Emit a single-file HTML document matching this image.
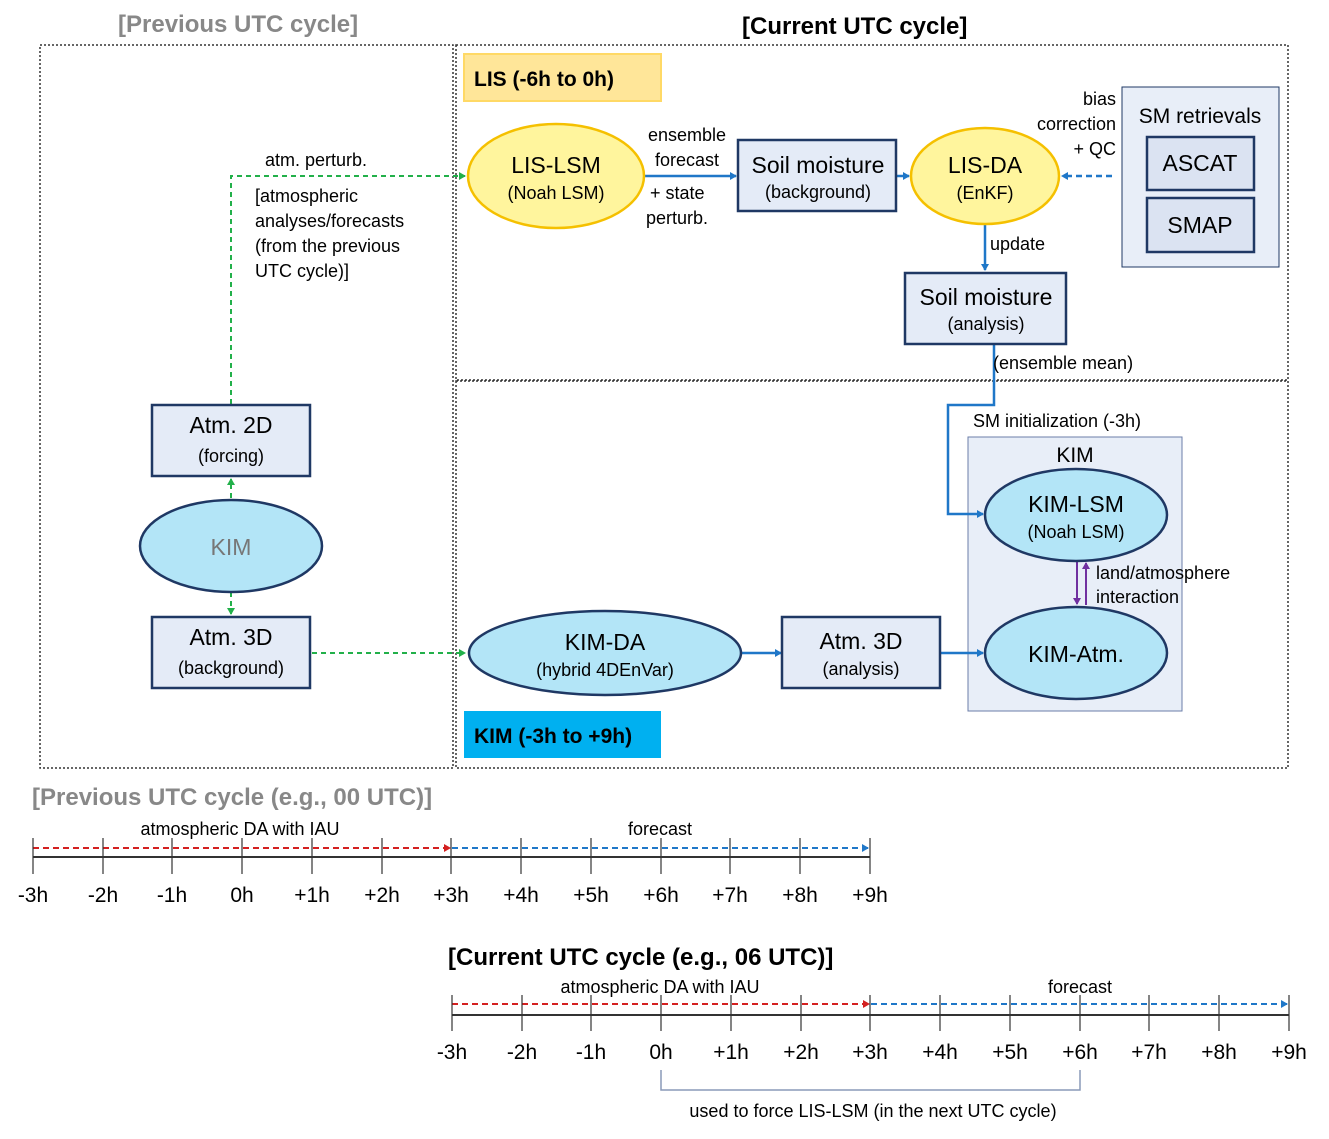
<!DOCTYPE html><html><head><meta charset="utf-8"><style>body{margin:0;background:#fff}svg{display:block}text{font-family:"Liberation Sans",sans-serif}</style></head><body>
<svg width="1329" height="1139" viewBox="0 0 1329 1139" xmlns="http://www.w3.org/2000/svg">
<defs>
<marker id="ab" markerWidth="8" markerHeight="8" refX="6" refY="4" orient="auto" markerUnits="userSpaceOnUse"><path d="M0,0L7,4L0,8z" fill="#1f77c8"/></marker>
<marker id="ag" markerWidth="8" markerHeight="8" refX="6" refY="4" orient="auto" markerUnits="userSpaceOnUse"><path d="M0,0L7,4L0,8z" fill="#22b04a"/></marker>
<marker id="ar" markerWidth="8" markerHeight="8" refX="6" refY="4" orient="auto" markerUnits="userSpaceOnUse"><path d="M0,0L7,4L0,8z" fill="#d42020"/></marker>
<marker id="ap" markerWidth="8" markerHeight="8" refX="6" refY="4" orient="auto" markerUnits="userSpaceOnUse"><path d="M0,0L7,4L0,8z" fill="#7030a0"/></marker>
</defs>
<g font-weight="bold" font-size="24">
<text x="118" y="32" fill="#888">[Previous UTC cycle]</text>
<text x="742" y="34" fill="#000">[Current UTC cycle]</text>
</g>
<g fill="none" stroke="#333" stroke-width="1.5" stroke-dasharray="2,2">
<rect x="40" y="45" width="413" height="723"/>
<rect x="456" y="45" width="832" height="335"/>
<rect x="456" y="381" width="832" height="387"/>
</g>
<rect x="464" y="54" width="197" height="47" fill="#ffe699" stroke="#ffd966" stroke-width="2"/>
<text x="474" y="86" font-size="21" font-weight="bold">LIS (-6h to 0h)</text>
<rect x="464" y="711" width="197" height="47" fill="#00b0f0"/>
<text x="474" y="743" font-size="21" font-weight="bold">KIM (-3h to +9h)</text>
<rect x="1122" y="87" width="157" height="180" fill="#e8eef8" stroke="#1f3864" stroke-width="1"/>
<rect x="968" y="437" width="214" height="274" fill="#e8eef8" stroke="#6b7ea8" stroke-width="1"/>
<!-- connectors -->
<g stroke="#22b04a" stroke-width="2" stroke-dasharray="5,4" fill="none">
<path d="M231 404V176H465" marker-end="url(#ag)"/>
<path d="M231 498V479" marker-end="url(#ag)"/>
<path d="M231 592V614" marker-end="url(#ag)"/>
<path d="M312 653H465" marker-end="url(#ag)"/>
</g>
<g stroke="#1f77c8" stroke-width="2.5" fill="none">
<path d="M645 176H736" marker-end="url(#ab)"/>
<path d="M897 176H909" marker-end="url(#ab)"/>
<path d="M985 218V270" marker-end="url(#ab)"/>
<path d="M994 344V405H948V514H983" marker-end="url(#ab)"/>
<path d="M741 653H781" marker-end="url(#ab)"/>
<path d="M941 653H983" marker-end="url(#ab)"/>
<path d="M1112 176H1062" stroke-dasharray="6,4" marker-end="url(#ab)"/>
</g>
<g stroke="#7030a0" stroke-width="2"><path d="M1077 562V604" marker-end="url(#ap)"/><path d="M1086 605V563" marker-end="url(#ap)"/></g>
<!-- boxes -->
<g fill="#e4ebf7" stroke="#1f3864" stroke-width="2.5">
<rect x="152" y="405" width="158" height="71"/>
<rect x="152" y="617" width="158" height="71"/>
<rect x="738" y="140" width="158" height="71"/>
<rect x="905" y="273" width="161" height="71"/>
<rect x="782" y="617" width="158" height="71"/>
</g>
<g fill="#dbe3f2" stroke="#1f3864" stroke-width="2.5">
<rect x="1147" y="137" width="107" height="53"/>
<rect x="1147" y="198" width="107" height="54"/>
</g>
<g fill="#fff59d" stroke="#f5c000" stroke-width="2.5">
<ellipse cx="556" cy="176" rx="88" ry="52"/>
<ellipse cx="985" cy="176" rx="74" ry="48"/>
</g>
<g fill="#b3e5f7" stroke="#1f3864" stroke-width="2.5">
<ellipse cx="231" cy="546" rx="91" ry="46"/>
<ellipse cx="605" cy="653" rx="136" ry="42"/>
<ellipse cx="1076" cy="515" rx="91" ry="46"/>
<ellipse cx="1076" cy="653" rx="91" ry="46"/>
</g>
<g font-size="23" text-anchor="middle">
<text x="556" y="173">LIS-LSM</text><text x="985" y="173">LIS-DA</text>
<text x="231" y="433">Atm. 2D</text><text x="231" y="645">Atm. 3D</text>
<text x="818" y="173">Soil moisture</text><text x="986" y="305">Soil moisture</text>
<text x="861" y="649">Atm. 3D</text><text x="605" y="650">KIM-DA</text>
<text x="1076" y="512">KIM-LSM</text><text x="1076" y="662">KIM-Atm.</text>
<text x="231" y="555" fill="#777">KIM</text>
<text x="1200" y="171">ASCAT</text><text x="1200" y="233">SMAP</text>
<text x="1200" y="123" font-size="21">SM retrievals</text>
<text x="1075" y="462" font-size="21">KIM</text>
</g>
<g font-size="18" text-anchor="middle">
<text x="556" y="199">(Noah LSM)</text><text x="985" y="199">(EnKF)</text>
<text x="231" y="462">(forcing)</text><text x="231" y="674">(background)</text>
<text x="818" y="198">(background)</text><text x="986" y="330">(analysis)</text>
<text x="861" y="675">(analysis)</text><text x="605" y="676">(hybrid 4DEnVar)</text>
<text x="1076" y="538">(Noah LSM)</text>
<text x="687" y="141">ensemble</text><text x="687" y="166">forecast</text>
</g>
<g font-size="18">
<text x="650" y="199">+ state</text><text x="646" y="224">perturb.</text>
<text x="265" y="166">atm. perturb.</text>
<text x="255" y="202">[atmospheric</text><text x="255" y="227">analyses/forecasts</text><text x="255" y="252">(from the previous</text><text x="255" y="277">UTC cycle)]</text>
<text x="990" y="250">update</text>
<text x="993" y="369">(ensemble  mean)</text>
<text x="973" y="427">SM initialization  (-3h)</text>
<text x="1096" y="579">land/atmosphere</text><text x="1096" y="603">interaction</text>
<text x="1116" y="105" text-anchor="end">bias</text><text x="1116" y="130" text-anchor="end">correction</text><text x="1116" y="155" text-anchor="end">+ QC</text>
</g>
<!-- timeline 1 -->
<text x="32" y="805" font-size="24" font-weight="bold" fill="#888">[Previous UTC cycle (e.g., 00 UTC)]</text>
<text x="240" y="835" font-size="18" text-anchor="middle">atmospheric  DA with IAU</text>
<text x="660" y="835" font-size="18" text-anchor="middle">forecast</text>
<line x1="33" y1="857" x2="870" y2="857" stroke="#333" stroke-width="2"/>
<line x1="33" y1="848" x2="450" y2="848" stroke="#d42020" stroke-width="2" stroke-dasharray="6,4" marker-end="url(#ar)"/>
<line x1="452" y1="848" x2="868" y2="848" stroke="#1f77c8" stroke-width="2" stroke-dasharray="6,4" marker-end="url(#ab)"/>
<g stroke="#333" stroke-width="1.2">
<line x1="33" y1="838" x2="33" y2="874"/><line x1="103" y1="838" x2="103" y2="874"/><line x1="172" y1="838" x2="172" y2="874"/><line x1="242" y1="838" x2="242" y2="874"/><line x1="312" y1="838" x2="312" y2="874"/><line x1="382" y1="838" x2="382" y2="874"/><line x1="451" y1="838" x2="451" y2="874"/><line x1="521" y1="838" x2="521" y2="874"/><line x1="591" y1="838" x2="591" y2="874"/><line x1="661" y1="838" x2="661" y2="874"/><line x1="730" y1="838" x2="730" y2="874"/><line x1="800" y1="838" x2="800" y2="874"/><line x1="870" y1="838" x2="870" y2="874"/>
</g>
<g font-size="21" text-anchor="middle">
<text x="33" y="902">-3h</text><text x="103" y="902">-2h</text><text x="172" y="902">-1h</text><text x="242" y="902">0h</text><text x="312" y="902">+1h</text><text x="382" y="902">+2h</text><text x="451" y="902">+3h</text><text x="521" y="902">+4h</text><text x="591" y="902">+5h</text><text x="661" y="902">+6h</text><text x="730" y="902">+7h</text><text x="800" y="902">+8h</text><text x="870" y="902">+9h</text>
</g>
<!-- timeline 2 -->
<text x="448" y="965" font-size="24" font-weight="bold">[Current UTC cycle (e.g., 06 UTC)]</text>
<text x="660" y="993" font-size="18" text-anchor="middle">atmospheric  DA with IAU</text>
<text x="1080" y="993" font-size="18" text-anchor="middle">forecast</text>
<line x1="452" y1="1015" x2="1289" y2="1015" stroke="#333" stroke-width="2"/>
<line x1="452" y1="1004" x2="869" y2="1004" stroke="#d42020" stroke-width="2" stroke-dasharray="6,4" marker-end="url(#ar)"/>
<line x1="871" y1="1004" x2="1287" y2="1004" stroke="#1f77c8" stroke-width="2" stroke-dasharray="6,4" marker-end="url(#ab)"/>
<g stroke="#333" stroke-width="1.2" transform="translate(419,157)">
<line x1="33" y1="838" x2="33" y2="874"/><line x1="103" y1="838" x2="103" y2="874"/><line x1="172" y1="838" x2="172" y2="874"/><line x1="242" y1="838" x2="242" y2="874"/><line x1="312" y1="838" x2="312" y2="874"/><line x1="382" y1="838" x2="382" y2="874"/><line x1="451" y1="838" x2="451" y2="874"/><line x1="521" y1="838" x2="521" y2="874"/><line x1="591" y1="838" x2="591" y2="874"/><line x1="661" y1="838" x2="661" y2="874"/><line x1="730" y1="838" x2="730" y2="874"/><line x1="800" y1="838" x2="800" y2="874"/><line x1="870" y1="838" x2="870" y2="874"/>
</g>
<g font-size="21" text-anchor="middle" transform="translate(419,157)">
<text x="33" y="902">-3h</text><text x="103" y="902">-2h</text><text x="172" y="902">-1h</text><text x="242" y="902">0h</text><text x="312" y="902">+1h</text><text x="382" y="902">+2h</text><text x="451" y="902">+3h</text><text x="521" y="902">+4h</text><text x="591" y="902">+5h</text><text x="661" y="902">+6h</text><text x="730" y="902">+7h</text><text x="800" y="902">+8h</text><text x="870" y="902">+9h</text>
</g>
<path d="M661 1070V1090H1080V1070" fill="none" stroke="#8a9ab8" stroke-width="1.5"/>
<text x="873" y="1117" font-size="18" text-anchor="middle">used to force LIS-LSM (in the next  UTC cycle)</text>
</svg></body></html>
